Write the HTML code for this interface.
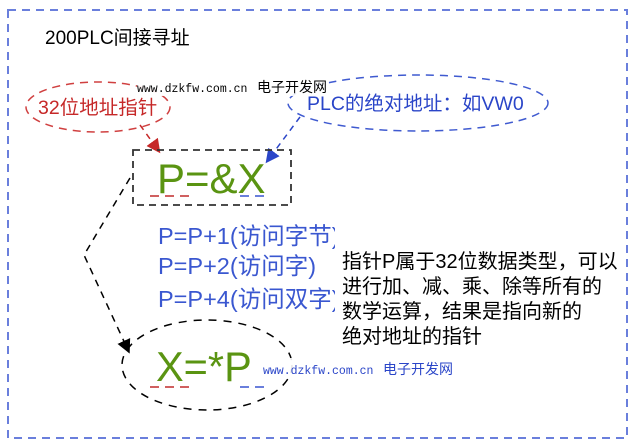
<!DOCTYPE html>
<html><head><meta charset="utf-8"><style>
html,body{margin:0;padding:0;background:#fff;width:637px;height:448px;overflow:hidden}
svg{display:block}
text{font-family:"Liberation Sans","Noto Sans CJK SC",sans-serif}
.m{font-family:"Liberation Mono","Noto Sans CJK SC",monospace}
</style></head><body>
<svg width="637" height="448" viewBox="0 0 637 448" xmlns="http://www.w3.org/2000/svg">
<defs>
<marker id="ar" markerWidth="14" markerHeight="14" refX="10" refY="7" orient="auto" markerUnits="userSpaceOnUse" viewBox="0 0 14 14"><path d="M0,0 L14,7 L0,14 z" fill="#c62828"/></marker>
<marker id="ab" markerWidth="14" markerHeight="14" refX="10" refY="7" orient="auto" markerUnits="userSpaceOnUse" viewBox="0 0 14 14"><path d="M0,0 L14,7 L0,14 z" fill="#2a45c8"/></marker>
<marker id="ak" markerWidth="14" markerHeight="14" refX="10" refY="7" orient="auto" markerUnits="userSpaceOnUse" viewBox="0 0 14 14"><path d="M0,0 L14,7 L0,14 z" fill="#000"/></marker>
</defs>
<rect x="8" y="10" width="619" height="428" fill="none" stroke="#6a7fdc" stroke-width="2" stroke-dasharray="8,6"/>
<text x="45" y="44" font-size="19" fill="#000">200PLC间接寻址</text>

<ellipse cx="98" cy="107" rx="72" ry="25" fill="none" stroke="#d04040" stroke-width="1.5" stroke-dasharray="8,6"/>
<text x="38" y="114" font-size="19.5" fill="#c62828">32位地址指针</text>
<ellipse cx="418" cy="103" rx="130" ry="28" fill="none" stroke="#3f5ad0" stroke-width="1.5" stroke-dasharray="8,6"/>
<text x="307" y="110" font-size="19.5" fill="#2a45c8">PLC的绝对地址：如VW0</text>

<rect x="137" y="78" width="192" height="18" fill="#fff" opacity="0.9"/>
<text x="137" y="92" font-size="11.5" class="m" fill="#000">www.dzkfw.com.cn</text>
<text x="257" y="92" font-size="14" fill="#000">电子开发网</text>

<line x1="140" y1="125" x2="158" y2="150" stroke="#c62828" stroke-width="1.5" stroke-dasharray="6,5" marker-end="url(#ar)"/>
<line x1="300" y1="117" x2="268" y2="160" stroke="#2a45c8" stroke-width="1.5" stroke-dasharray="6,5" marker-end="url(#ab)"/>

<rect x="133" y="150" width="158" height="55" fill="none" stroke="#333" stroke-width="1.8" stroke-dasharray="7,5"/>
<text x="157" y="193" font-size="42" fill="#5a9412">P=&amp;X</text>
<line x1="150" y1="196" x2="195" y2="196" stroke="#d06060" stroke-width="2" stroke-dasharray="9,6"/>
<line x1="240" y1="196" x2="267" y2="196" stroke="#6a7fdc" stroke-width="2" stroke-dasharray="9,6"/>

<polyline points="130,178 84,255 128,350" fill="none" stroke="#000" stroke-width="1.5" stroke-dasharray="7,6" marker-end="url(#ak)"/>

<text x="158" y="244" font-size="23.5" fill="#3a57d0">P=P+1(访问字节)</text>
<text x="158" y="274" font-size="23.5" fill="#3a57d0">P=P+2(访问字)</text>
<text x="158" y="307" font-size="23.5" fill="#3a57d0">P=P+4(访问双字)</text>
<rect x="335" y="222" width="288" height="130" fill="#fff"/>
<text x="342" y="268" font-size="20" fill="#000">指针P属于32位数据类型，可以</text>
<text x="342" y="293" font-size="20" fill="#000">进行加、减、乘、除等所有的</text>
<text x="342" y="318" font-size="20" fill="#000">数学运算，结果是指向新的</text>
<text x="342" y="343" font-size="20" fill="#000">绝对地址的指针</text>

<ellipse cx="207" cy="365" rx="85" ry="45" fill="none" stroke="#000" stroke-width="1.5" stroke-dasharray="8,7"/>
<text x="156" y="381" font-size="41.5" fill="#5a9412">X=*P</text>
<line x1="150" y1="387" x2="195" y2="387" stroke="#d06060" stroke-width="2" stroke-dasharray="9,6"/>
<line x1="240" y1="387" x2="267" y2="387" stroke="#6a7fdc" stroke-width="2" stroke-dasharray="9,6"/>
<rect x="262" y="358" width="195" height="20" fill="#fff" opacity="0.9"/>
<text x="263" y="374" font-size="11.5" class="m" fill="#2a45c8">www.dzkfw.com.cn</text>
<text x="383" y="374" font-size="14" fill="#2a45c8">电子开发网</text>
</svg>
</body></html>
